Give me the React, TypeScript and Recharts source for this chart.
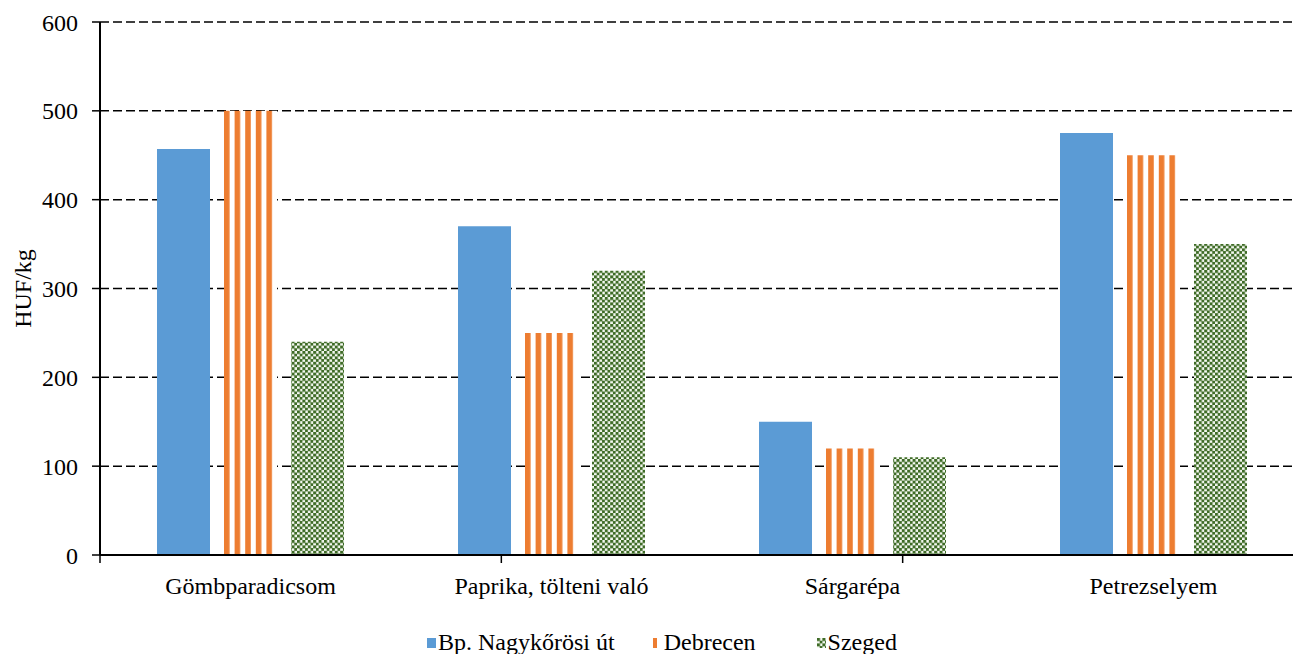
import {
	Bar,
	BarChart,
	CartesianGrid,
	Legend,
	XAxis,
	YAxis,
} from "recharts";

const categories = [
	"Gömbparadicsom",
	"Paprika, tölteni való",
	"Sárgarépa",
	"Petrezselyem",
];
const budapest = [457, 370, 150, 475];
const debrecen = [500, 250, 120, 450];
const szeged = [240, 320, 110, 350];
const seriesNames = ["Bp. Nagykőrösi út", "Debrecen", "Szeged"];
const yTicks = [0, 100, 200, 300, 400, 500, 600];
const edgeTicks = [0, 1, 2, 3, 4];

const data = categories.map((name, i) => ({
	name,
	bp: budapest[i],
	deb: debrecen[i],
	sze: szeged[i],
}));

const FONT = '"Liberation Serif", "Times New Roman", serif';
const BLUE = "#5b9bd5";
const ORANGE = "#ed7d31";
const GREEN = "#3e6b26";

// legend swatch look per series: fill and drawn width
const swatchFills = [BLUE, ORANGE, "url(#checker)"];
const swatchWidths = [9, 4, 9];
const legendGap = [427, 38, 61];

function LegendContent() {
	return (
		<div
			style={{
				display: "flex",
				height: 24,
				lineHeight: "24px",
				alignItems: "center",
				fontFamily: FONT,
				fontSize: 24,
				color: "#000",
				whiteSpace: "nowrap",
			}}
		>
			{seriesNames.map((name, i) => (
				<div
					key={name}
					style={{
						display: "flex",
						alignItems: "center",
						marginLeft: legendGap[i],
					}}
				>
					<svg width={11} height={10} style={{ marginTop: 2 }}>
						<rect
							x={0}
							y={0}
							width={swatchWidths[i]}
							height={10}
							fill={swatchFills[i]}
						/>
					</svg>
					<span>{name}</span>
				</div>
			))}
		</div>
	);
}

function CategoryTick(props: any) {
	const { x, y, payload } = props;
	return (
		<text
			x={x}
			y={y + 30}
			textAnchor="middle"
			fontFamily={FONT}
			fontSize={24}
			fill="#000"
		>
			{payload.value}
		</text>
	);
}

export default function App() {
	return (
		<div
			style={{
				position: "absolute",
				left: 0,
				top: 0,
				width: 1293,
				height: 654,
				overflow: "hidden",
				background: "#fff",
			}}
		>
			<BarChart
				width={1310}
				height={654}
				data={data}
				margin={{ top: 22, right: 6, left: 0, bottom: 35 }}
				barSize={53}
				barGap={14}
			>
				<defs>
					<pattern
						id="stripes"
						patternUnits="objectBoundingBox"
						patternContentUnits="objectBoundingBox"
						width={0.2}
						height={1}
					>
						<rect x={0} y={0} width={0.2} height={1} fill="#fff" />
						<rect x={0} y={0} width={0.105} height={1} fill={ORANGE} />
					</pattern>
					<pattern
						id="checker"
						patternUnits="userSpaceOnUse"
						width={5.4}
						height={5.4}
					>
						<rect x={0} y={0} width={5.4} height={5.4} fill="#f4f8f1" />
						<rect x={0} y={0} width={3} height={3} fill={GREEN} />
						<rect x={2.7} y={2.7} width={3} height={3} fill={GREEN} />
					</pattern>
				</defs>
				<CartesianGrid
					vertical={false}
					stroke="#000"
					strokeWidth={1.5}
					strokeDasharray="9 4"
				/>
				{/* boundary ticks between categories, Excel style */}
				<XAxis
					xAxisId="a"
					type="number"
					domain={[0, 4]}
					ticks={edgeTicks}
					height={1}
					tickSize={8}
					tickFormatter={() => ""}
					tickLine={{ stroke: "#000", strokeWidth: 1.5 }}
					axisLine={{ stroke: "#000", strokeWidth: 2 }}
				/>
				<XAxis
					xAxisId="b"
					dataKey="name"
					height={39}
					tickLine={false}
					axisLine={false}
					tick={<CategoryTick />}
					interval={0}
				/>
				<YAxis
					width={100}
					domain={[0, 600]}
					ticks={yTicks}
					tickSize={8}
					tickLine={{ stroke: "#000", strokeWidth: 1.5 }}
					axisLine={{ stroke: "#000", strokeWidth: 2 }}
					tick={{ fill: "#000", fontFamily: FONT, fontSize: 24 }}
					tickMargin={14}
					label={{
						value: "HUF/kg",
						angle: -90,
						position: "insideLeft",
						offset: 22,
						style: {
							fill: "#000",
							fontFamily: FONT,
							fontSize: 24,
							textAnchor: "middle",
						},
					}}
				/>
				<Legend
					verticalAlign="bottom"
					content={<LegendContent />}
					wrapperStyle={{ left: 0, top: 630, width: 1293 }}
				/>
				<Bar
					xAxisId="b"
					dataKey="bp"
					name={seriesNames[0]}
					fill={BLUE}
					isAnimationActive={false}
				/>
				<Bar
					xAxisId="b"
					dataKey="deb"
					name={seriesNames[1]}
					fill="url(#stripes)"
					isAnimationActive={false}
				/>
				<Bar
					xAxisId="b"
					dataKey="sze"
					name={seriesNames[2]}
					fill="url(#checker)"
					isAnimationActive={false}
				/>
			</BarChart>
		</div>
	);
}
